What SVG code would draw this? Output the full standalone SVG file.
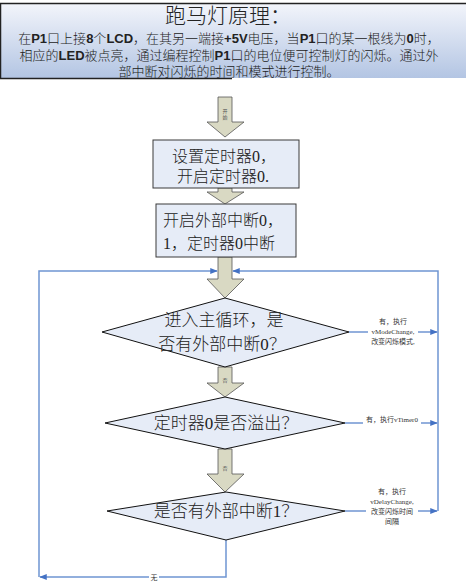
<svg xmlns="http://www.w3.org/2000/svg" width="468" height="584" viewBox="0 0 468 584">
<defs>
<linearGradient id="hg" x1="0" y1="0" x2="0" y2="1">
<stop offset="0" stop-color="#f3f5fb"/>
<stop offset="1" stop-color="#b3c5e3"/>
</linearGradient>
<marker id="ah" viewBox="0 0 10 10" refX="9" refY="5" markerWidth="5" markerHeight="5" orient="auto">
<path d="M0,1 L10,5 L0,9 z" fill="#4472c4"/>
</marker>
<style>
.cjk{font-family:"Liberation Serif","Noto Sans CJK SC",serif;fill:#222;font-weight:300}
.hd{font-family:"Liberation Sans","Noto Sans CJK SC",sans-serif;fill:#222;font-weight:300}
.hd tspan{font-weight:bold}
.box{fill:#e6ecf7;stroke:#3a3a3a;stroke-width:1}
.dia{fill:#e6ecf7;stroke:#111;stroke-width:1}
.blk{fill:#d9d9c3;stroke:#555;stroke-width:0.8}
.ln{fill:none;stroke:#6f95d2;stroke-width:1.5}
.sm{font-family:"Liberation Serif","Noto Sans CJK SC",serif;font-size:7px;fill:#333}
.tiny{font-family:"Noto Sans CJK SC",sans-serif;font-size:5px;fill:#555}
</style>
</defs>
<rect width="468" height="584" fill="#fff"/>
<g id="header">
<rect x="0" y="3" width="466" height="75" fill="url(#hg)"/>
<line x1="0" y1="3.5" x2="466" y2="3.5" stroke="#222" stroke-width="1.5"/>
<line x1="0.5" y1="3" x2="0.5" y2="79" stroke="#222" stroke-width="1.5"/>
<line x1="0" y1="78.5" x2="232" y2="78.5" stroke="#222" stroke-width="1.5"/>
<text x="228" y="23" text-anchor="middle" class="cjk" font-size="21">跑马灯原理：</text>
<text x="229" y="43" text-anchor="middle" class="hd" font-size="13">在<tspan>P1</tspan>口上接<tspan>8</tspan>个<tspan>LCD</tspan>，在其另一端接<tspan>+5V</tspan>电压，当<tspan>P1</tspan>口的某一根线为<tspan>0</tspan>时，</text>
<text x="229" y="60" text-anchor="middle" class="hd" font-size="13">相应的<tspan>LED</tspan>被点亮，通过编程控制<tspan>P1</tspan>口的电位便可控制灯的闪烁。通过外</text>
<text x="229" y="76" text-anchor="middle" class="hd" font-size="13">部中断对闪烁的时间和模式进行控制。</text>
</g>
<g id="connectors">
<polygon class="blk" points="218,97 232,97 232,122 244,122 225,137 207,122 218,122"/>
<text x="225" y="113" text-anchor="middle" class="tiny">开</text>
<text x="225" y="119" text-anchor="middle" class="tiny">始</text>
<polygon class="blk" points="218,188 232,188 232,192 244,192 225,204 207,192 218,192"/>
<polygon class="blk" points="218,257 232,257 232,279 244,279 225,298 207,279 218,279"/>
<polygon class="blk" points="218,367 232,367 232,383 244,383 225,397 207,383 218,383"/>
<text x="225" y="382" text-anchor="middle" class="tiny">否</text>
<polygon class="blk" points="218,449 232,449 232,474 244,474 225,492 207,474 218,474"/>
<text x="225" y="470" text-anchor="middle" class="tiny">否</text>
<polyline class="ln" points="39,577 39,271 217,271" marker-end="url(#ah)"/>
<polyline class="ln" points="438,511 438,271 233,271" marker-end="url(#ah)"/>
<line class="ln" x1="349" y1="332" x2="437" y2="332" marker-end="url(#ah)"/>
<line class="ln" x1="345" y1="423" x2="437" y2="423" marker-end="url(#ah)"/>
<line class="ln" x1="345" y1="511" x2="437" y2="511" marker-end="url(#ah)"/>
<polyline class="ln" points="226,540 226,577 40,577" marker-end="url(#ah)"/>
<rect x="368" y="316" width="50" height="30" fill="#fff"/>
<text x="393" y="324" text-anchor="middle" class="sm">有，执行</text>
<text x="393" y="334" text-anchor="middle" class="sm">vModeChange,</text>
<text x="393" y="344" text-anchor="middle" class="sm">改变闪烁模式,</text>
<rect x="363" y="415" width="58" height="10" fill="#fff"/>
<text x="392" y="422" text-anchor="middle" class="sm">有，执行vTimer0</text>
<rect x="366" y="486" width="52" height="40" fill="#fff"/>
<text x="392" y="494" text-anchor="middle" class="sm">有，执行</text>
<text x="392" y="504" text-anchor="middle" class="sm">vDelayChange,</text>
<text x="392" y="514" text-anchor="middle" class="sm">改变闪烁时间</text>
<text x="392" y="524" text-anchor="middle" class="sm">间隔</text>
<rect x="149" y="573" width="10" height="9" fill="#fff"/>
<text x="154" y="580" text-anchor="middle" class="sm">无</text>
</g>
<g id="box1">
<rect class="box" x="153" y="140" width="146" height="48"/>
<text x="172" y="162" class="cjk" font-size="16">设置定时器0，</text>
<text x="177" y="182" class="cjk" font-size="16">开启定时器0.</text>
</g>
<g id="box2">
<rect class="box" x="156" y="204" width="140" height="53"/>
<text x="163" y="226" class="cjk" font-size="16">开启外部中断0，</text>
<text x="163" y="249" class="cjk" font-size="16">1，定时器0中断</text>
</g>
<g id="d1">
<polygon class="dia" points="225,298 349,332 225,367 102,332"/>
<text x="224" y="326" text-anchor="middle" class="cjk" font-size="17">进入主循环，是</text>
<text x="222" y="350" text-anchor="middle" class="cjk" font-size="17">否有外部中断0？</text>
</g>
<g id="d2">
<polygon class="dia" points="225,397 345,423 225,449 105,423"/>
<text x="226" y="429" text-anchor="middle" class="cjk" font-size="17">定时器0是否溢出？</text>
</g>
<g id="d3">
<polygon class="dia" points="226,492 345,511 226,540 107,511"/>
<text x="226" y="517" text-anchor="middle" class="cjk" font-size="17">是否有外部中断1？</text>
</g>
</svg>
